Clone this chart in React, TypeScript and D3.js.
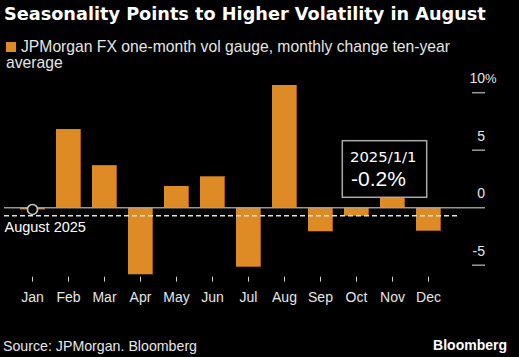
import React from "react";
import * as d3 from "d3";

const months = ["Jan", "Feb", "Mar", "Apr", "May", "Jun", "Jul", "Aug", "Sep", "Oct", "Nov", "Dec"];
const values = [-0.15, 6.84, 3.7, -5.79, 1.89, 2.73, -5.13, 10.67, -2.05, -0.7, 0.9, -2.0];
const yTicks = [10, 5, 0, -5];
const refValue = -0.7;
const refLabel = "August 2025";
const tipDate = "2025/1/1";
const tipValue = -0.2;
const title = "Seasonality Points to Higher Volatility in August";
const legendLines = ["JPMorgan FX one-month vol gauge, monthly change ten-year", "average"];
const source = "Source: JPMorgan. Bloomberg";

const W = 519;
const H = 357;
const ORANGE = "#de8b26";
const TEXT = "#e6e6e6";

export default function App() {
  const x = d3
    .scaleBand<string>()
    .domain(months)
    .range([14.5, 446.5])
    .paddingInner(11 / 36)
    .paddingOuter(5.5 / 36);
  const y = d3.scaleLinear().domain([0, 10]).range([207.7, 92.7]);
  const bw = x.bandwidth();
  const fmt = (v: number) => d3.format(".1f")(v).replace("\u2212", "-") + "%";

  return (
    <svg
      width={W}
      height={H}
      style={{ position: "absolute", left: 0, top: 0, background: "#000", display: "block" }}
    >
      <rect x={0} y={0} width={W} height={H} fill="#000" />
      <text x={4} y={20} fill="#fff" fontFamily="DejaVu Sans" fontWeight="bold" fontSize={17.7}>
        {title}
      </text>
      <rect x={6} y={42} width={10} height={10} fill={ORANGE} />
      <text x={21} y={52.3} fill={TEXT} fontFamily="Liberation Sans" fontSize={15.7}>
        {legendLines[0]}
      </text>
      <text x={6} y={68} fill={TEXT} fontFamily="Liberation Sans" fontSize={15.7}>
        {legendLines[1]}
      </text>

      {/* bars */}
      {months.map((m, i) => {
        const v = values[i];
        const y0 = y(0);
        const y1 = y(v);
        return (
          <g key={m}>
            <rect x={x(m)} y={Math.min(y0, y1)} width={bw} height={Math.abs(y1 - y0)} fill={ORANGE} />
            <rect x={(x(m) as number) + bw - 1} y={Math.min(y0, y1)} width={1} height={Math.abs(y1 - y0)} fill="#8a5312" opacity={0.8} />
          </g>
        );
      })}

      {/* zero line */}
      <line x1={4} x2={485} y1={y(0)} y2={y(0)} stroke="#a8a8a8" strokeWidth={1.6} opacity={0.9} />
      {/* reference dashed line */}
      <line x1={4} x2={457} y1={y(refValue)} y2={y(refValue)} stroke="#e0e0e0" strokeWidth={1.6} strokeDasharray="5,3" />
      <text x={4.5} y={231.7} fill="#fff" fontFamily="Liberation Sans" fontSize={14.5}>
        {refLabel}
      </text>

      {/* y axis */}
      {yTicks.map((t) => (
        <g key={t}>
          {t !== 0 && <line x1={472} x2={485} y1={y(t)} y2={y(t)} stroke="#9a9a9a" strokeWidth={1.5} />}
          <text x={485} y={y(t) - 9.4} fill={TEXT} fontFamily="Liberation Sans" fontSize={14} textAnchor="end">
            {t}
          </text>
          {t === 10 && (
            <text x={485} y={y(t) - 9.4} fill={TEXT} fontFamily="Liberation Sans" fontSize={13}>
              %
            </text>
          )}
        </g>
      ))}

      {/* x axis */}
      {months.map((m) => {
        const cx = (x(m) as number) + bw / 2;
        return (
          <g key={"t" + m}>
            <line x1={cx} x2={cx} y1={276.7} y2={281.7} stroke="#cfcfcf" strokeWidth={1} />
            <text x={cx} y={301.7} fill={TEXT} fontFamily="Liberation Sans" fontSize={14} textAnchor="middle">
              {m}
            </text>
          </g>
        );
      })}

      {/* hover marker */}
      <circle cx={(x("Jan") as number) + bw / 2} cy={y(values[0])} r={5} fill="#000" stroke="#c8c8c8" strokeWidth={1.6} />

      {/* tooltip */}
      <rect x={342.3} y={140.7} width={84.4} height={56.6} fill="#000" stroke="#aaaaaa" strokeWidth={1.5} />
      <text x={350} y={161.7} fill="#fff" fontFamily="DejaVu Sans" fontSize={14.8}>
        {tipDate}
      </text>
      <text x={351} y={186} fill="#fff" fontFamily="Liberation Sans" fontSize={21}>
        {fmt(tipValue)}
      </text>

      {/* footer */}
      <text x={3} y={351} fill={TEXT} fontFamily="Liberation Sans" fontSize={14.2}>
        {source}
      </text>
      <text x={507} y={350} fill="#fff" fontFamily="Liberation Sans" fontWeight="bold" fontSize={14} textAnchor="end">
        Bloomberg
      </text>
    </svg>
  );
}
